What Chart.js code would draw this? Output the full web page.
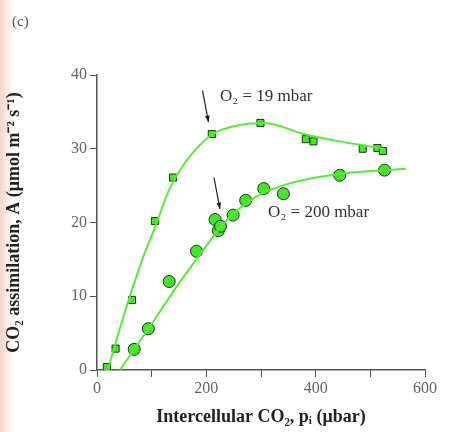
<!DOCTYPE html>
<html><head><meta charset="utf-8">
<script src="https://cdn.jsdelivr.net/npm/chart.js@4/dist/chart.umd.min.js"></script>
<style>html,body{margin:0;padding:0;background:#fff}#w{position:relative;width:468px;height:432px;background:linear-gradient(to right,#f6d6c6 0px,#fff 14px)}canvas{display:block}</style>
</head><body><div id="w"><canvas id="c" width="468" height="432"></canvas></div>
<script>
const lowX=[18,34,64,106,139,210,299,382,396,486,513,523];
const lowY=[0.4,2.9,9.5,20.2,26.1,32,33.5,31.3,31,30,30.1,29.7];
const highX=[68,94,132,182,216,222,226,249,272,305,341,444,526];
const highY=[2.8,5.6,12,16.1,20.4,18.9,19.5,21,23,24.6,23.9,26.4,27.1];
const lowFitX=[20,42,84,106,131,160,210,260,306,378,436,525];
const lowFitY=[0,5.7,15.2,19.3,24.3,28,31.9,33.2,33.5,32,31.1,30];
const highFitX=[42,95,142,189,231,289,348,436,565];
const highFitY=[0,5.7,10.9,15.7,19.8,23.4,25.2,26.5,27.3];
const xTicks=[0,200,400,600];
const yTicks=[0,10,20,30,40];
const labels=[{t:"O₂ = 19 mbar",x:225,y:37.1},{t:"O₂ = 200 mbar",x:313,y:21.3}];
const arrows=[[193,37.9,204,33.6],[214,26.1,225,21.8]];
const pts=(xs,ys)=>xs.map((x,i)=>({x,y:ys[i]}));
const green='#44e62a', lineG='#55ee33';
const ann={id:'ann',afterDatasetsDraw(ch){const c=ch.ctx,xs=ch.scales.x,ys=ch.scales.y;c.save();
c.fillStyle='#333';c.font='17px "Liberation Serif"';c.textBaseline='middle';
labels.forEach(l=>c.fillText(l.t,xs.getPixelForValue(l.x),ys.getPixelForValue(l.y)));
c.strokeStyle='#222';c.fillStyle='#222';c.lineWidth=1.2;
arrows.forEach(a=>{const x1=xs.getPixelForValue(a[0]),y1=ys.getPixelForValue(a[1]),x2=xs.getPixelForValue(a[2]),y2=ys.getPixelForValue(a[3]);
c.beginPath();c.moveTo(x1,y1);c.lineTo(x2,y2);c.stroke();const an=Math.atan2(y2-y1,x2-x1);
c.beginPath();c.moveTo(x2,y2);c.lineTo(x2-7*Math.cos(an-0.35),y2-7*Math.sin(an-0.35));c.lineTo(x2-7*Math.cos(an+0.35),y2-7*Math.sin(an+0.35));c.closePath();c.fill();});
c.font='15px "Liberation Serif"';c.fillStyle='#555';c.fillText('(c)',12,22);
c.restore();}};
new Chart(document.getElementById('c'),{type:'scatter',
data:{datasets:[
{data:pts(lowFitX,lowFitY),showLine:true,borderColor:lineG,borderWidth:2,pointRadius:0,cubicInterpolationMode:'monotone'},
{data:pts(highFitX,highFitY),showLine:true,borderColor:lineG,borderWidth:2,pointRadius:0,cubicInterpolationMode:'monotone'},
{data:pts(lowX,lowY),pointStyle:'rect',pointRadius:5,backgroundColor:green,borderColor:'#1a3a10',borderWidth:1},
{data:pts(highX,highY),pointStyle:'circle',pointRadius:6,backgroundColor:green,borderColor:'#1a3a10',borderWidth:1}]},
options:{responsive:false,animation:false,devicePixelRatio:1,
layout:{padding:{top:75,right:43,left:0,bottom:0}},
plugins:{legend:{display:false},tooltip:{enabled:false}},
scales:{
x:{type:'linear',min:0,max:600,afterFit(s){s.height=62;},
afterBuildTicks(s){s.ticks=[0,100,200,300,400,500,600].map(v=>({value:v}));},
ticks:{autoSkip:false,maxRotation:0,callback:v=>xTicks.includes(v)?String(v):'',color:'#666',font:{family:'Liberation Serif',size:16},padding:2},
grid:{drawOnChartArea:false,tickLength:7,color:'#555'},border:{color:'#555',width:1.5},
title:{display:true,text:'Intercellular CO₂, pᵢ (μbar)',color:'#222',font:{family:'Liberation Serif',size:18,weight:'bold'},padding:{top:0}}},
y:{type:'linear',min:0,max:40,afterFit(s){s.width=97;},
afterBuildTicks(s){s.ticks=yTicks.map(v=>({value:v}));},
ticks:{color:'#666',font:{family:'Liberation Serif',size:16},padding:3},
grid:{drawOnChartArea:false,tickLength:7,color:'#555'},border:{color:'#555',width:1.5},
title:{display:true,text:'CO₂ assimilation, A (μmol m⁻² s⁻¹)',color:'#222',font:{family:'Liberation Serif',size:18,weight:'bold'},padding:{bottom:2}}}}},
plugins:[ann]});
</script>
</body></html>
